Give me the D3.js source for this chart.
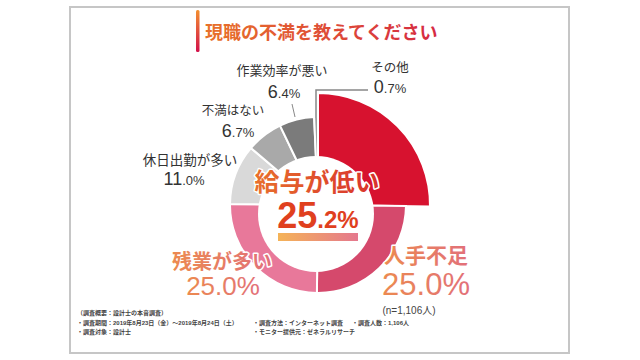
<!DOCTYPE html>
<html>
<head>
<meta charset="utf-8">
<script src="https://cdn.jsdelivr.net/npm/d3@7"></script>
<style>
body { margin: 0; background: #fff; }
text { font-family: 'Liberation Sans', 'Noto Sans CJK JP', sans-serif; }
</style>
</head>
<body>
<svg id="chart"></svg>
<script>
// data
var categories = ['給与が低い', '人手不足', '残業が多い', '休日出勤が多い', '不満はない', '作業効率が悪い', 'その他'];
var values = [25.2, 25.0, 25.0, 11.0, 6.7, 6.4, 0.7];
var titleText = '現職の不満を教えてください';
var sampleNote = '(n=1,106人)';
var surveyNotes = [
    '（調査概要：設計士の本音調査）',
    '・調査期間：2019年8月23日（金）～2019年8月24日（土）',
    '・調査方法：インターネット調査',
    '・調査人数：1,106人',
    '・調査対象：設計士',
    '・モニター提供元：ゼネラルリサーチ'
];

// styles / layout
var sliceColors = ['#d7122f', '#d5496c', '#e8789a', '#d9d9d9', '#a9a9a9', '#7b7b7b', '#a0a0a0'];
var outerRadii = [112, 88, 88, 88, 88, 88, 88];
var cx = 318, cy = 205;

// name centre, value baseline, font sizes [name, big digits, small digits]
var labelLayout = [
    { name: [317, 182], value: [318, 228], sizes: [25, 36, 24], fill: 'url(#gCenter)', bold: true },
    { name: [426, 255], value: [426, 295], sizes: [21, 31, 31], fill: 'url(#gSalmon)' },
    { name: [222, 262], value: [223, 295], sizes: [20, 26, 26], fill: 'url(#gSalmon)' },
    { name: [190, 160], value: [184, 185], sizes: [13.5, 18, 13], fill: '#333' },
    { name: [233, 111], value: [238, 137], sizes: [12.5, 18, 13], fill: '#333' },
    { name: [282, 70], value: [284, 98], sizes: [13, 18, 13], fill: '#333' },
    { name: [390, 68], value: [390, 93], sizes: [12.5, 18, 13], fill: '#333' }
];

var svg = d3.select('svg#chart')
    .attr('width', 640)
    .attr('height', 360);

var defs = svg.append('defs');
var addGrad = function (id, stops, vertical) {
    var g = defs.append('linearGradient').attr('id', id)
        .attr('x1', 0).attr('y1', 0)
        .attr('x2', vertical ? 0 : 1).attr('y2', vertical ? 1 : 0);
    stops.forEach(function (s, i) {
        g.append('stop').attr('offset', (i / (stops.length - 1) * 100) + '%').attr('stop-color', s);
    });
};
addGrad('gTitle', ['#e8722a', '#d52a42']);
addGrad('gBar', ['#f39030', '#d2104a'], true);
addGrad('gCenter', ['#e8702c', '#d8302c']);
addGrad('gSalmon', ['#ec8a50', '#e2707a']);
addGrad('gUnder', ['#f3a63a', '#e0607a']);

// frame
svg.append('rect')
    .attr('x', 70).attr('y', 7)
    .attr('width', 499).attr('height', 346)
    .attr('fill', 'none')
    .attr('stroke', '#c6c6c6')
    .attr('stroke-width', 2);

// title
svg.append('rect')
    .attr('x', 196).attr('y', 10)
    .attr('width', 3.5).attr('height', 42)
    .attr('rx', 1.5)
    .attr('fill', 'url(#gBar)');
svg.append('text')
    .attr('x', 205).attr('y', 33)
    .attr('dominant-baseline', 'central')
    .attr('font-size', 18)
    .attr('font-weight', 'bold')
    .attr('fill', 'url(#gTitle)')
    .text(titleText);

// donut
var pie = d3.pie().sort(null).value(function (d) { return d; });
var arcs = pie(values);
var arc = d3.arc()
    .innerRadius(44)
    .outerRadius(function (d) { return outerRadii[d.index]; });

var ring = svg.append('g').attr('transform', 'translate(' + cx + ',' + cy + ')');
ring.selectAll('path.slice')
    .data(arcs)
    .enter().append('path')
    .classed('slice', true)
    .attr('d', arc)
    .attr('fill', function (d) { return sliceColors[d.index]; })
    .attr('stroke', '#fff')
    .attr('stroke-width', 2);

// hole
svg.append('circle')
    .attr('cx', 316).attr('cy', 214)
    .attr('r', 58)
    .attr('fill', '#fff');

// leader lines
svg.append('polyline')
    .attr('points', '368,90 316,90 316,118')
    .attr('fill', 'none')
    .attr('stroke', '#888')
    .attr('stroke-width', 1.5);
svg.append('line')
    .attr('x1', 292).attr('y1', 104)
    .attr('x2', 295).attr('y2', 117)
    .attr('stroke', '#888')
    .attr('stroke-width', 1);

// underline strip below the main value
svg.append('rect')
    .attr('x', 278).attr('y', 233)
    .attr('width', 80).attr('height', 8)
    .attr('fill', 'url(#gUnder)')
    .attr('opacity', 0.85);

// labels
var fmt = d3.format('.1f');
var labels = svg.selectAll('g.label')
    .data(arcs)
    .enter().append('g')
    .classed('label', true);

labels.append('text')
    .attr('x', function (d) { return labelLayout[d.index].name[0]; })
    .attr('y', function (d) { return labelLayout[d.index].name[1]; })
    .attr('text-anchor', 'middle')
    .attr('dominant-baseline', 'central')
    .attr('font-size', function (d) { return labelLayout[d.index].sizes[0]; })
    .attr('font-weight', function (d) { return d.index < 3 ? 'bold' : 'normal'; })
    .attr('fill', function (d) { return labelLayout[d.index].fill; })
    .attr('stroke', function (d) { return d.index < 3 ? '#fff' : 'none'; })
    .attr('stroke-width', 3)
    .attr('paint-order', 'stroke')
    .attr('stroke-linejoin', 'round')
    .text(function (d) { return categories[d.index]; });

var valueText = labels.append('text')
    .attr('x', function (d) { return labelLayout[d.index].value[0]; })
    .attr('y', function (d) { return labelLayout[d.index].value[1]; })
    .attr('text-anchor', 'middle')
    .attr('font-weight', function (d) { return labelLayout[d.index].bold ? 'bold' : 'normal'; })
    .attr('fill', function (d) { return d.index === 0 ? '#e0401e' : labelLayout[d.index].fill; })
    .attr('stroke', function (d) { return d.index === 0 ? '#fff' : 'none'; })
    .attr('stroke-width', 3)
    .attr('paint-order', 'stroke');
valueText.append('tspan')
    .attr('font-size', function (d) { return labelLayout[d.index].sizes[1]; })
    .text(function (d) { return fmt(values[d.index]).split('.')[0]; });
valueText.append('tspan')
    .attr('font-size', function (d) { return labelLayout[d.index].sizes[2]; })
    .text(function (d) { return '.' + fmt(values[d.index]).split('.')[1] + '%'; });

svg.append('text')
    .attr('x', 409).attr('y', 310)
    .attr('text-anchor', 'middle')
    .attr('dominant-baseline', 'central')
    .attr('font-size', 10)
    .attr('fill', '#444')
    .text(sampleNote);

// survey notes
var notePos = [[77, 313], [77, 323], [253, 323], [352, 323], [77, 332], [253, 332]];
svg.selectAll('text.note')
    .data(surveyNotes)
    .enter().append('text')
    .classed('note', true)
    .attr('x', function (d, i) { return notePos[i][0]; })
    .attr('y', function (d, i) { return notePos[i][1]; })
    .attr('dominant-baseline', 'central')
    .attr('font-size', 6)
    .attr('font-weight', 'bold')
    .attr('fill', '#444')
    .text(function (d) { return d; });
</script>
</body>
</html>
